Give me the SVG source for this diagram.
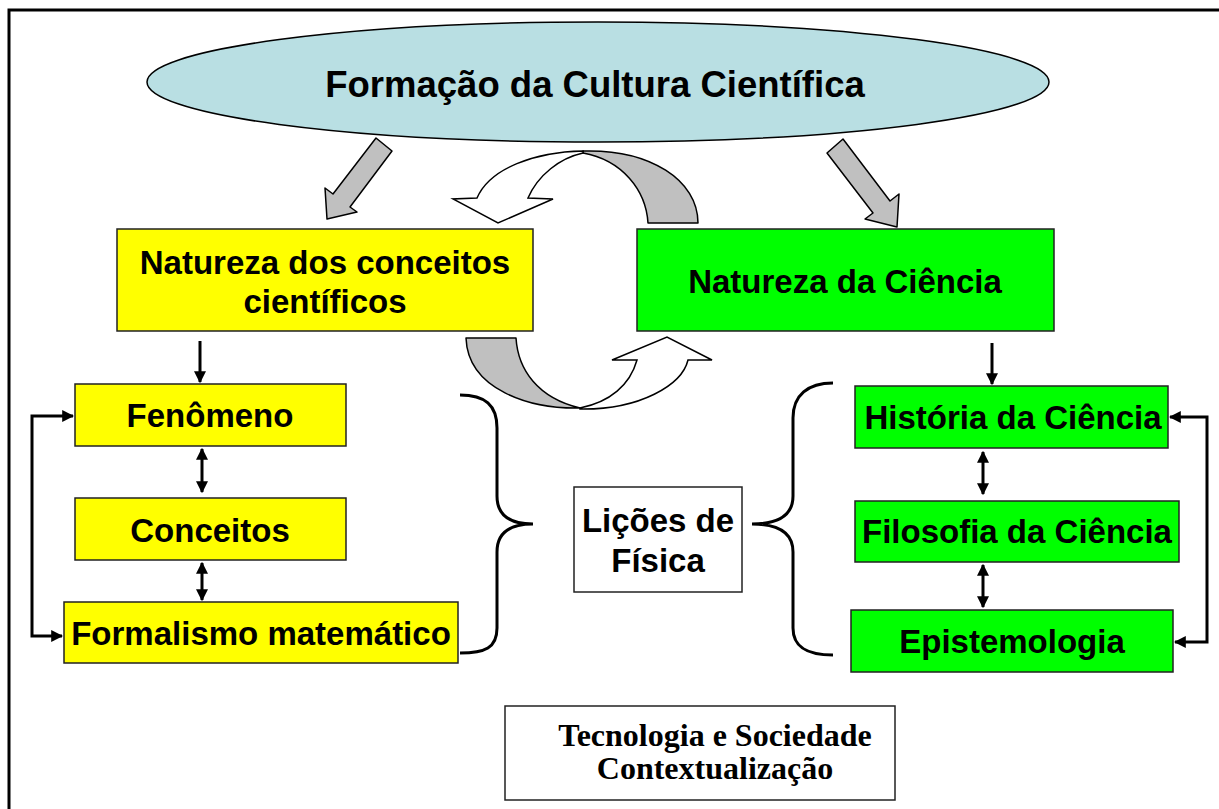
<svg xmlns="http://www.w3.org/2000/svg" width="1219" height="809" viewBox="0 0 1219 809">
<defs>
<style>
.t{font-family:"Liberation Sans",Arial,sans-serif;font-weight:bold;fill:#000;text-anchor:middle}
.tm{font-family:"Liberation Serif","Times New Roman",serif;font-weight:bold;fill:#000;text-anchor:middle}
.box{stroke:#222;stroke-width:1.5}
.y{fill:#ffff00}
.g{fill:#00ff00}
.ln{fill:none;stroke:#000;stroke-width:3}
.br{fill:none;stroke:#000;stroke-width:3}
.gr{fill:#c0c0c0;stroke:#000;stroke-width:1.5;stroke-linejoin:round}
.wh{fill:#fff;stroke:#000;stroke-width:1.5;stroke-linejoin:miter}
</style>
<marker id="ah" viewBox="0 0 10 10" refX="9" refY="5" markerWidth="4" markerHeight="4" orient="auto-start-reverse" markerUnits="strokeWidth">
<path d="M0,0 L10,5 L0,10 z" fill="#000"/>
</marker>
</defs>
<rect width="1219" height="809" fill="#fff"/>
<path d="M9,809 L9,10 L1219,10" fill="none" stroke="#000" stroke-width="3"/>

<g id="formacao">
<ellipse cx="598" cy="82" rx="451" ry="60" fill="#b9dfe3" stroke="#000" stroke-width="1.5"/>
<text class="t" x="595" y="97" font-size="36.5">Formação da Cultura Científica</text>
</g>

<g id="natureza-conceitos">
<rect class="box y" x="117" y="229" width="416" height="102"/>
<text class="t" x="325" y="274" font-size="33">Natureza dos conceitos</text>
<text class="t" x="325" y="313" font-size="33">científicos</text>
</g>

<g id="natureza-ciencia">
<rect class="box g" x="637" y="229" width="417" height="102"/>
<text class="t" x="845" y="293" font-size="33">Natureza da Ciência</text>
</g>

<g id="fenomeno">
<rect class="box y" x="75" y="384" width="271" height="62"/>
<text class="t" x="210" y="427" font-size="33">Fenômeno</text>
</g>
<g id="conceitos">
<rect class="box y" x="75" y="498" width="271" height="62"/>
<text class="t" x="210" y="542" font-size="33">Conceitos</text>
</g>
<g id="formalismo">
<rect class="box y" x="64" y="602" width="394" height="61"/>
<text class="t" x="261" y="645" font-size="33">Formalismo matemático</text>
</g>

<g id="historia">
<rect class="box g" x="855" y="386" width="313" height="62"/>
<text class="t" x="1013" y="429" font-size="33">História da Ciência</text>
</g>
<g id="filosofia">
<rect class="box g" x="855" y="501" width="324" height="61"/>
<text class="t" x="1017" y="543" font-size="33">Filosofia da Ciência</text>
</g>
<g id="epistemologia">
<rect class="box g" x="851" y="610" width="322" height="62"/>
<text class="t" x="1012" y="653" font-size="33">Epistemologia</text>
</g>

<g id="licoes">
<rect x="574" y="487" width="168" height="105" fill="#fff" stroke="#222" stroke-width="1.5"/>
<text class="t" x="658" y="532" font-size="33">Lições de</text>
<text class="t" x="658" y="572" font-size="33">Física</text>
</g>

<g id="tecnologia">
<rect x="505" y="706" width="390" height="94" fill="#fff" stroke="#222" stroke-width="1.5"/>
<text class="tm" x="715" y="746" font-size="32">Tecnologia e Sociedade</text>
<text class="tm" x="715" y="779" font-size="32">Contextualização</text>
</g>

<g id="connectors">
<polygon class="gr" points="376,138 392,151 350,207 357,212 327,219 325,188 333,194"/>
<polygon class="gr" points="843,139 890,201 899,194 897,227 865,219 873,213 827,153"/>

<path class="gr" d="M583,151 C650,149 698,180 698,223 L648,223 C646,190 622,160 583,153 Z"/>
<path class="wh" d="M583,151 C535,152 490,168 477,198 L453,199 L498,223 L553,199 L528,198 C538,175 560,158 583,153 Z"/>

<path class="gr" d="M466,338 L516,338 C518,370 538,398 580,408 C530,409 468,390 466,338 Z"/>
<path class="wh" d="M580,409 C640,410 682,385 688,360 L712,360 L667,337 L612,360 L637,360 C630,385 610,402 580,408 Z"/>

<line class="ln" x1="200" y1="341" x2="200" y2="382" marker-end="url(#ah)"/>
<line class="ln" x1="202" y1="449" x2="202" y2="492" marker-start="url(#ah)" marker-end="url(#ah)"/>
<line class="ln" x1="202" y1="563" x2="202" y2="600" marker-start="url(#ah)" marker-end="url(#ah)"/>
<path class="ln" d="M62,636 L32,636 L32,416 L73,416" marker-start="url(#ah)" marker-end="url(#ah)"/>

<line class="ln" x1="992" y1="343" x2="992" y2="384" marker-end="url(#ah)"/>
<line class="ln" x1="983" y1="452" x2="983" y2="494" marker-start="url(#ah)" marker-end="url(#ah)"/>
<line class="ln" x1="983" y1="565" x2="983" y2="607" marker-start="url(#ah)" marker-end="url(#ah)"/>
<path class="ln" d="M1170,417 L1207,417 L1207,642 L1175,642" marker-start="url(#ah)" marker-end="url(#ah)"/>

<path class="br" d="M460,395 C485,395 497,405 497,428 L497,496 C497,515 510,524 533,524 C510,524 497,533 497,552 L497,628 C497,648 485,653 460,653"/>
<path class="br" d="M833,383 C808,383 793,395 793,418 L793,496 C793,515 778,524 752,524 C778,524 793,533 793,552 L793,628 C793,648 808,655 833,655"/>
</g>
</svg>
